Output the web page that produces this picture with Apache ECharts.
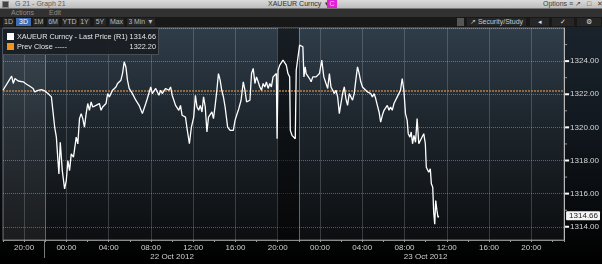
<!DOCTYPE html>
<html><head><meta charset="utf-8">
<script src="https://cdn.jsdelivr.net/npm/echarts@6/dist/echarts.min.js"></script>
<style>
html,body{margin:0;padding:0;background:#000;width:602px;height:264px;overflow:hidden;font-family:"Liberation Sans",Arial,sans-serif;}
#chart{position:absolute;left:0;top:0;width:602px;height:264px;background:linear-gradient(#1c262f 0%,#121920 45%,#050607 88%,#000 100%);}
.row{position:absolute;left:0;width:602px;overflow:hidden;}
.t{position:absolute;white-space:nowrap;font-size:7px;}
.btn{position:absolute;top:18px;height:8px;line-height:8px;font-size:7px;color:#b8b8b8;background:#262626;text-align:center;white-space:nowrap;}
#legend{position:absolute;left:2px;top:28px;width:157px;height:27px;background:rgba(24,29,34,0.92);border:1px solid #4a4f55;box-sizing:border-box;font-size:7.3px;color:#e4e4e4;}
#legend .li{position:absolute;left:3px;width:150px;height:10px;line-height:10px;}
#legend .sq{position:absolute;left:1px;top:1px;width:7px;height:7px;}
#legend .lab{position:absolute;left:11px;}
#legend .val{position:absolute;right:0;}
</style></head>
<body>
<div id="chart"></div>

<div class="row" style="top:0;height:9px;background:linear-gradient(#dadada,#bdbdbd);border-bottom:1px solid #777;box-sizing:border-box;">
  <div style="position:absolute;left:2px;top:1px;width:5px;height:5px;background:#444;border:1px solid #888;"></div>
  <span class="t" style="left:15px;top:0;line-height:8px;color:#5c5c5c;">G 21 - Graph 21</span>
  <span class="t" style="left:268px;top:0;line-height:8px;color:#303030;">XAUEUR Curncy&nbsp;&nbsp;▾</span>
  <div style="position:absolute;left:327px;top:0;width:10px;height:8px;background:#e21ed6;color:#fcd;font-size:7px;line-height:8px;text-align:center;">C</div>
  <span class="t" style="left:543px;top:0;line-height:8px;color:#404040;">Options ≡</span>
  <span class="t" style="left:575px;top:0;line-height:8px;color:#404040;letter-spacing:2px;">↗ □ ✕</span>
</div>
<div class="row" style="top:9px;height:8px;background:#313131;">
  <span class="t" style="left:11px;top:0;line-height:8px;color:#8e8e8e;">Actions</span>
  <span class="t" style="left:49px;top:0;line-height:8px;color:#8e8e8e;">Edit</span>
</div>
<div class="row" style="top:17px;height:10px;background:#181818;"></div>
<div class="btn" style="left:3px;width:11px;">1D</div>
<div class="btn" style="left:16px;width:15px;background:#3d6db0;color:#fff;">3D</div>
<div class="btn" style="left:33px;width:11px;">1M</div>
<div class="btn" style="left:47px;width:12px;">6M</div>
<div class="btn" style="left:62px;width:15px;">YTD</div>
<div class="btn" style="left:79px;width:11px;">1Y</div>
<div class="btn" style="left:94px;width:12px;">5Y</div>
<div class="btn" style="left:109px;width:15px;">Max</div>
<div class="btn" style="left:127px;width:28px;font-size:6.8px;">3 Min ▼</div>
<div class="btn" style="left:457px;width:7px;background:#555;"></div>
<div class="btn" style="left:467px;width:59px;color:#c8c8c8;">↗ Security/Study</div>
<div class="btn" style="left:530px;width:19px;color:#ddd;">◂</div>
<div class="btn" style="left:552px;width:22px;color:#ddd;">✓</div>
<div class="btn" style="left:577px;width:24px;color:#ddd;">⚙</div>
<div style="position:absolute;left:44px;top:241px;width:1px;height:17px;background:#7a7a7a;"></div>

<div id="legend">
  <div class="li" style="top:3px;"><div class="sq" style="background:#ffffff;"></div><span class="lab">XAUEUR Curncy - Last Price (R1)</span><span class="val" id="lastVal"></span></div>
  <div class="li" style="top:13px;"><div class="sq" style="background:#f2941e;"></div><span class="lab">Prev Close -----</span><span class="val" id="prevVal"></span></div>
</div>

<script>
// Hours counted from 21 Oct 2012 00:00 (24 = 22 Oct 00:00, 48 = 23 Oct 00:00)
const hours = [
18.00,18.82,18.97,19.13,19.29,19.44,19.91,20.23,20.54,20.85,21.01,21.32,21.64,21.95,22.26,22.58,22.73,22.89,23.05,23.20,
23.29,23.42,23.61,23.83,23.99,24.14,24.30,24.46,24.67,24.93,25.08,25.24,25.40,25.55,25.71,25.87,26.02,26.18,26.34,26.49,
26.81,27.12,27.28,27.43,27.75,27.90,28.06,28.37,28.69,28.84,29.00,29.16,29.31,29.47,29.63,29.78,29.94,30.25,30.57,30.88,
31.19,31.51,31.66,31.98,32.13,32.45,32.76,32.92,33.07,33.39,33.70,33.86,34.01,34.33,34.64,34.80,34.95,35.27,35.42,35.64,
35.83,36.05,36.21,36.36,36.52,36.67,36.83,36.98,37.14,37.30,37.45,37.77,37.92,38.08,38.24,38.39,38.55,38.70,38.86,39.02,
39.26,39.49,39.64,39.80,39.96,40.11,40.27,40.53,40.74,40.90,41.05,41.21,41.37,41.52,41.68,41.84,41.99,42.15,42.31,42.46,
42.62,42.78,42.93,43.09,43.25,43.40,43.56,43.72,43.87,43.94,44.03,44.19,44.34,44.50,44.66,44.81,44.97,45.13,45.19,45.35,
45.51,45.66,45.75,45.91,46.07,46.22,46.38,46.48,46.60,46.69,46.85,47.01,47.16,47.32,47.48,47.63,47.79,47.95,48.17,48.36,
48.57,48.73,48.89,49.04,49.20,49.36,49.51,49.67,49.83,49.98,50.14,50.30,50.45,50.61,50.77,50.92,51.08,51.24,51.39,51.55,
51.71,51.86,52.02,52.18,52.49,52.80,52.96,53.12,53.27,53.43,53.59,53.74,53.90,54.06,54.21,54.37,54.53,54.68,54.84,55.00,
55.15,55.31,55.47,55.62,55.78,55.94,56.09,56.25,56.35,56.51,56.63,56.76,56.89,57.04,57.19,57.35,57.50,57.66,57.82,57.97,
58.06,58.29,58.44,58.54,58.67,58.76,58.86,58.95,59.07,59.17,59.23
];
const prices = [
1322.24,1323.09,1322.65,1322.95,1322.85,1322.80,1322.75,1322.60,1322.48,1322.35,1322.14,1322.24,1322.28,1322.20,1322.04,1321.84,1321.74,1320.02,1319.41,1318.00,
1317.19,1319.10,1317.39,1316.28,1316.79,1318.00,1317.39,1318.40,1318.20,1319.41,1319.00,1320.53,1320.83,1320.53,1320.02,1320.83,1321.44,1321.03,1321.54,1321.23,
1321.33,1321.44,1321.03,1321.23,1321.44,1322.04,1321.84,1322.24,1322.44,1322.65,1322.55,1322.85,1323.25,1323.96,1323.65,1322.85,1322.35,1322.04,1321.64,1321.33,
1320.83,1321.44,1321.74,1322.44,1322.04,1322.35,1321.94,1322.24,1322.04,1322.35,1322.24,1322.44,1321.94,1321.33,1321.03,1321.33,1320.73,1320.62,1319.92,1319.01,
1320.02,1320.62,1321.94,1321.23,1321.03,1321.33,1320.93,1321.84,1321.23,1319.72,1320.62,1320.93,1320.53,1321.33,1322.24,1323.25,1322.85,1322.24,1321.84,1321.23,
1320.02,1319.82,1319.92,1319.82,1320.42,1320.73,1321.03,1321.64,1322.75,1322.24,1321.54,1321.54,1321.64,1323.25,1323.56,1322.65,1323.05,1322.75,1322.44,1322.24,
1322.65,1322.44,1322.75,1322.35,1322.65,1322.44,1323.05,1323.15,1323.25,1319.31,1323.45,1323.76,1323.86,1324.06,1324.16,1323.76,1323.25,1323.05,1319.82,1319.52,
1319.62,1319.31,1323.45,1323.56,1324.97,1324.87,1324.87,1323.05,1323.65,1323.25,1323.35,1322.95,1322.75,1323.05,1322.95,1323.05,1322.95,1323.25,1324.06,1323.05,
1322.65,1322.35,1323.25,1322.44,1322.24,1322.04,1322.24,1321.84,1320.83,1321.44,1322.04,1322.44,1321.74,1321.33,1322.04,1321.94,1321.64,1322.04,1322.85,1323.65,
1323.25,1322.75,1322.44,1322.35,1322.14,1322.04,1321.84,1322.04,1321.74,1321.33,1320.93,1320.32,1320.73,1321.03,1321.13,1321.33,1321.03,1321.23,1321.03,1321.44,
1321.54,1321.84,1321.94,1322.24,1322.95,1322.24,1320.83,1320.42,1319.62,1319.41,1319.72,1319.01,1319.52,1319.10,1320.53,1319.01,1319.21,1319.31,1319.62,1319.01,
1317.59,1317.29,1317.50,1316.59,1316.38,1314.87,1314.16,1315.58,1314.97,1314.56,1314.66
];
const prevClose = 1322.20;
const lastPrice = prices[prices.length - 1];
const dateTickHours = [34, 58];
const dateTickTexts = ['22 Oct 2012', '23 Oct 2012'];
const sessionBreaks = [22, 46];
const lightSpan = [18, 22];
const darkSpan = [44, 46];
const xMin = 18, xMax = 71.1;
const yMin = 1313.2, yMax = 1326.0;
const yLabelMax = 1324;

document.getElementById('lastVal').textContent = lastPrice.toFixed(2);
document.getElementById('prevVal').textContent = prevClose.toFixed(2);

const chart = echarts.init(document.getElementById('chart'), null, {renderer: 'canvas'});
const FONT = 'Liberation Sans';
const gridV = 'rgba(210,215,220,0.22)';
const gridH = 'rgba(210,215,220,0.38)';
const T = 'rgba(0,0,0,0)';

function hourLabel(v) {
  const r = Math.round(v);
  if (Math.abs(v - r) > 1e-6 || r % 4 !== 0) return '';
  const hh = r % 24;
  return (hh < 10 ? '0' : '') + hh + ':00';
}
function dateLabel(v) {
  for (let i = 0; i < dateTickHours.length; i++) {
    if (Math.abs(v - dateTickHours[i]) < 1e-6) return dateTickTexts[i];
  }
  return '';
}
function priceLabel(v) {
  const r = Math.round(v);
  if (Math.abs(v - r) > 1e-6) return '';
  if (r % 2 === 0) return r <= yLabelMax ? '{t| }{v|' + r.toFixed(2) + '}' : '';
  return '{m| }';
}

chart.setOption({
  animation: false,
  backgroundColor: 'transparent',
  grid: {
    left: 3, right: 34, top: 28, bottom: 24,
    show: true,
    borderColor: '#6c7074', borderWidth: 1,
    backgroundColor: new echarts.graphic.LinearGradient(0, 0, 0, 1, [
      {offset: 0, color: '#2f3d4a'},
      {offset: 0.45, color: '#1d252c'},
      {offset: 1, color: '#0c0e10'}
    ])
  },
  xAxis: [{
    type: 'value', min: xMin, max: xMax, interval: 2,
    position: 'bottom',
    axisLine: {show: true, lineStyle: {color: '#8a8a8a', width: 1}},
    axisTick: {show: true, length: 2, lineStyle: {color: '#9a9a9a'}},
    axisLabel: {formatter: hourLabel, color: '#d0d0d0', fontSize: 8, fontFamily: FONT, margin: 4},
    splitLine: {show: true, lineStyle: {color: [T, gridV], width: 1}}
  }, {
    type: 'value', min: xMin, max: xMax, interval: 2,
    position: 'bottom', offset: 9,
    axisLine: {show: false}, axisTick: {show: false}, splitLine: {show: false},
    axisLabel: {formatter: dateLabel, color: '#d0d0d0', fontSize: 8, fontFamily: FONT, margin: 4}
  }],
  yAxis: {
    type: 'value', position: 'right', min: yMin, max: yMax, interval: 0.2,
    axisLine: {show: true, lineStyle: {color: '#b8b8b8', width: 1}},
    axisTick: {show: false},
    axisLabel: {
      formatter: priceLabel, margin: 1, fontFamily: FONT,
      rich: {
        t: {width: 4, height: 2, backgroundColor: '#ffffff', verticalAlign: 'middle'},
        m: {width: 2, height: 1, backgroundColor: '#9a9a9a', verticalAlign: 'middle'},
        v: {color: '#d8d8d8', fontSize: 8, fontFamily: FONT, padding: [0, 0, 0, 1], verticalAlign: 'middle'}
      }
    },
    splitLine: {show: true, lineStyle: {color: [T, T, T, T, gridH, T, T, T, T, T], type: [1, 1], width: 1}}
  },
  series: [{
    type: 'line',
    xAxisIndex: 0,
    data: hours.map((h, i) => [h, prices[i]]),
    showSymbol: false,
    symbol: 'none',
    lineStyle: {color: '#ffffff', width: 1.3},
    z: 5,
    markArea: {
      silent: true,
      data: [
        [{xAxis: lightSpan[0], itemStyle: {color: 'rgba(255,255,255,0.06)'}}, {xAxis: lightSpan[1]}],
        [{xAxis: darkSpan[0], itemStyle: {color: 'rgba(0,0,0,0.5)'}}, {xAxis: darkSpan[1]}]
      ]
    },
    markLine: {
      silent: true,
      symbol: ['none', 'none'],
      animation: false,
      lineStyle: {color: '#b57e48', type: [2, 1], width: 1.6, opacity: 1},
      label: {show: false},
      data: [
        {xAxis: sessionBreaks[0], lineStyle: {color: 'rgba(200,200,200,0.45)', type: 'solid', width: 1}},
        {xAxis: sessionBreaks[1], lineStyle: {color: 'rgba(200,200,200,0.45)', type: 'solid', width: 1}},
        {yAxis: prevClose, lineStyle: {color: '#b57e48', type: [2, 1], width: 1.6}},
        {yAxis: lastPrice, lineStyle: {color: 'rgba(0,0,0,0)', width: 1, type: 'solid'}, label: {
          show: true, position: 'end', distance: 2,
          formatter: lastPrice.toFixed(2),
          backgroundColor: '#f4f4f4', color: '#222', fontSize: 8, fontFamily: FONT,
          padding: [1, 2, 0, 3], borderRadius: 1
        }}
      ]
    }
  }]
});
</script>
</body></html>
